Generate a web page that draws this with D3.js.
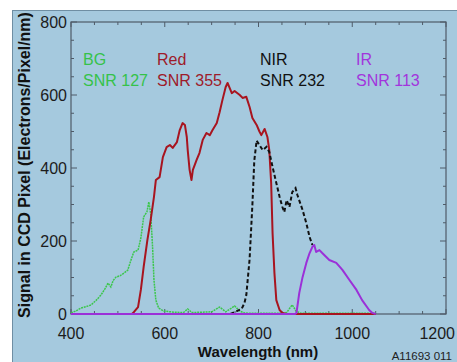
<!DOCTYPE html>
<html><head><meta charset="utf-8">
<script src="https://cdn.jsdelivr.net/npm/d3@7"></script>
<style>
html,body{margin:0;padding:0;background:#fff;}
svg{display:block;font-family:"Liberation Sans",Arial,sans-serif;}
</style></head>
<body>
<svg id="c" width="457" height="362"></svg>
<script>
// ---- data ----
const bgWl  = [400,410,421,432,443,454,464,472,479,485,490,496,505,513,521,528,534,543,549,555,562,566,570,574,577,581,587,598,620,640,649,658,680,700,717,730,749,760,770,780,800,840,860,872,880,890,950,1050];
const bgVal = [3,8,16,20,25,38,52,68,85,74,92,101,105,112,120,148,170,175,208,266,280,307,276,184,93,38,16,8,5,4,14,4,5,6,19,6,22,8,3,2,2,2,4,25,8,2,2,2];

const redWl  = [500,530,534,543,549,555,563,570,577,581,589,596,604,611,617,626,632,638,643,647,649,653,657,660,668,674,681,689,696,702,711,717,723,730,734,743,749,760,766,774,781,787,796,802,806,813,819,823,827,830,834,838,845,851,860,1050];
const redVal = [0,0,5,19,66,129,203,258,321,367,375,430,457,463,455,471,504,523,518,485,449,395,367,395,422,441,477,496,490,504,523,553,586,622,633,605,611,600,592,595,567,537,518,500,490,507,485,449,359,222,112,38,11,3,0,0];

const nirWl  = [740,764,770,774,781,787,791,796,802,809,817,823,830,838,845,851,855,860,866,872,879,883,894,902,909,915];
const nirVal = [0,14,30,52,150,300,420,475,463,449,458,444,403,359,321,293,279,312,293,334,345,326,285,249,211,189];

const irWl  = [400,878,881,887,894,902,909,915,919,923,930,936,951,966,979,994,1009,1021,1036,1043,1050];
const irVal = [0,0,3,58,101,140,167,184,189,170,175,167,148,140,121,93,66,38,11,3,0];

const xTicks = [400,600,800,1000,1200];
const yTicks = [0,200,400,600,800];
const legend = [
  {name:"BG",  snr:"SNR 127", color:"#35c24a", x:83},
  {name:"Red", snr:"SNR 355", color:"#9e1b2a", x:157},
  {name:"NIR", snr:"SNR 232", color:"#111111", x:260},
  {name:"IR",  snr:"SNR 113", color:"#a235dc", x:356}
];

// ---- layout ----
const svg = d3.select("#c");
const L=71, R=446, T=22, B=314;
const x = d3.scaleLinear().domain([400,1200]).range([L,R]);
const y = d3.scaleLinear().domain([0,800]).range([B,T]);

// background panel
svg.append("rect").attr("x",12.5).attr("y",10.5).attr("width",460).attr("height",360)
  .attr("fill","#a5c9de").attr("stroke","#6f8ea3").attr("stroke-width",1);

// frame
svg.append("rect").attr("x",L).attr("y",T).attr("width",R-L).attr("height",B-T)
  .attr("fill","none").attr("stroke","#4f5b68").attr("stroke-width",1.2);

const minorX = d3.range(400,1201,50), minorY = d3.range(0,801,50);
const tk = svg.append("g").attr("stroke","#4f5b68").attr("stroke-width",1);
minorX.forEach(v=>{
  const len = v%200===0?5:3;
  tk.append("line").attr("x1",x(v)).attr("x2",x(v)).attr("y1",B).attr("y2",B-len);
  tk.append("line").attr("x1",x(v)).attr("x2",x(v)).attr("y1",T).attr("y2",T+len);
});
minorY.forEach(v=>{
  const len = v%200===0?6:3;
  tk.append("line").attr("y1",y(v)).attr("y2",y(v)).attr("x1",L).attr("x2",L+len);
  tk.append("line").attr("y1",y(v)).attr("y2",y(v)).attr("x1",R).attr("x2",R-len);
});

// tick labels
svg.append("g").selectAll("text").data(xTicks).join("text")
  .attr("x",d=>d===1200?455:x(d)).attr("y",339).attr("text-anchor",d=>d===1200?"end":"middle")
  .attr("font-size",16).attr("fill","#1c1c1c").text(d=>d);
svg.append("g").selectAll("text").data(yTicks).join("text")
  .attr("x",67).attr("y",d=>y(d)+6).attr("text-anchor","end")
  .attr("font-size",16).attr("fill","#1c1c1c").text(d=>d);

// axis titles
svg.append("text").attr("x",258).attr("y",357).attr("text-anchor","middle")
  .attr("font-size",15).attr("font-weight","bold").attr("fill","#111").text("Wavelength (nm)");
svg.append("text").attr("transform","translate(30,165) rotate(-90)").attr("text-anchor","middle")
  .attr("font-size",16).attr("font-weight","bold").attr("fill","#111")
  .text("Signal in CCD Pixel (Electrons/Pixel/nm)");

svg.append("text").attr("x",452).attr("y",360).attr("text-anchor","end")
  .attr("font-size",11.5).attr("fill","#222").text("A11693 011");

// series
const line = d3.line().x(d=>x(d[0])).y(d=>y(d[1]));
const zip = (a,b)=>a.map((v,i)=>[v,b[i]]);
svg.append("path").attr("d",line(zip(bgWl,bgVal))).attr("fill","none")
  .attr("stroke","#3cc64c").attr("stroke-width",1.5).attr("stroke-dasharray","2,0.8");
svg.append("path").attr("d",line(zip(redWl,redVal))).attr("fill","none")
  .attr("stroke","#a8141f").attr("stroke-width",2).attr("stroke-linejoin","round");
svg.append("path").attr("d",line(zip(nirWl,nirVal))).attr("fill","none")
  .attr("stroke","#111").attr("stroke-width",2).attr("stroke-dasharray","4,2.5");
svg.append("path").attr("d",line(zip(irWl,irVal))).attr("fill","none")
  .attr("stroke","#9b30d8").attr("stroke-width",2).attr("stroke-linejoin","round");

// legend labels
const lg = svg.append("g").selectAll("g").data(legend).join("g");
lg.append("text").attr("x",d=>d.x).attr("y",65).attr("font-size",16).attr("fill",d=>d.color).text(d=>d.name);
lg.append("text").attr("x",d=>d.x).attr("y",86).attr("font-size",16).attr("fill",d=>d.color).text(d=>d.snr);
</script>
</body></html>
